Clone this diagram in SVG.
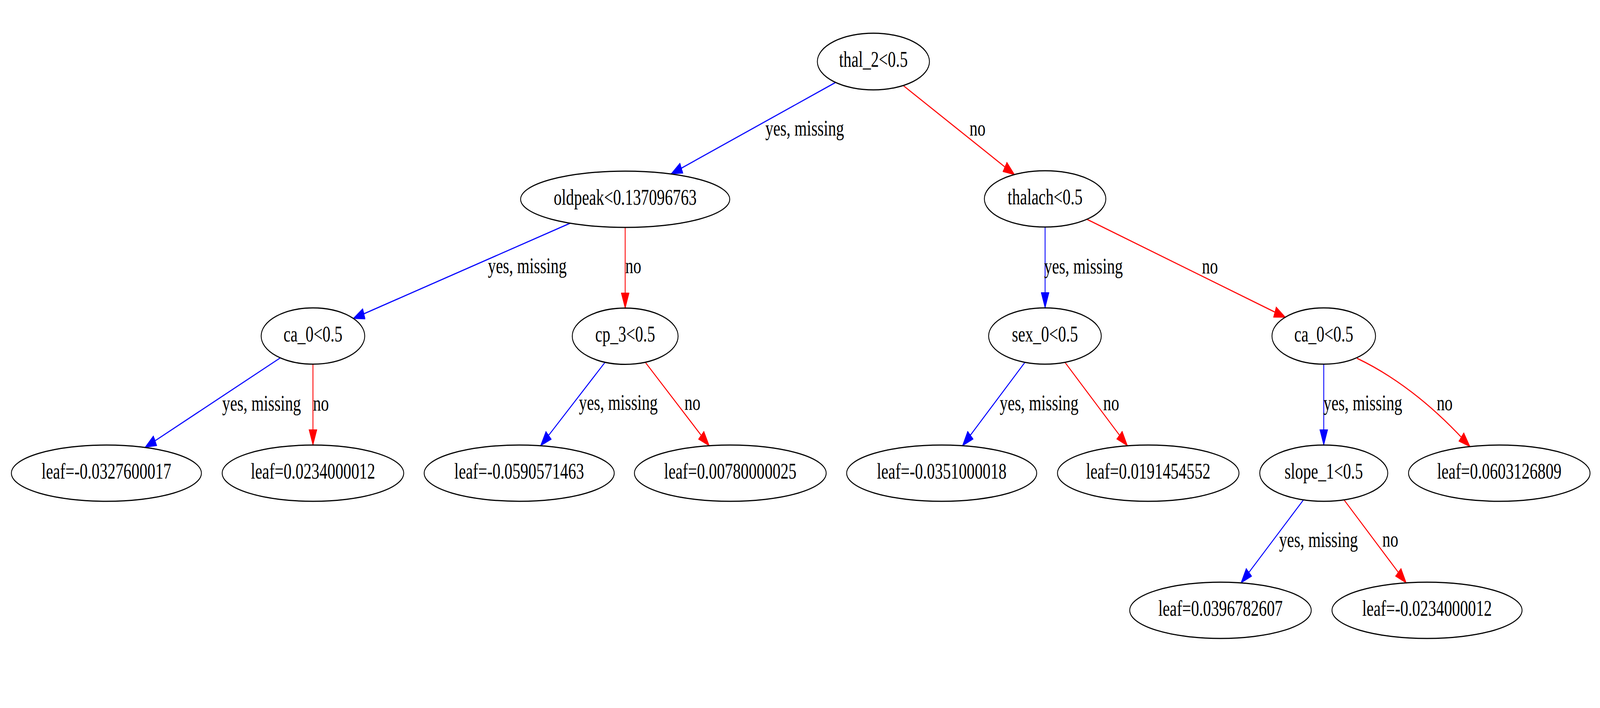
<svg xmlns="http://www.w3.org/2000/svg" width="5624" height="1812" viewBox="0 0 5624 1812" preserveAspectRatio="none" style="width:100%;height:100%">
<style>
.node ellipse{fill:none;stroke:#000;stroke-width:3}
.node text{font-family:"Liberation Serif","Times New Roman",serif;font-size:56px;text-anchor:middle;fill:#000}
.elabel{font-family:"Liberation Serif","Times New Roman",serif;font-size:56px;fill:#000}
.yes{stroke:#0000ff;stroke-width:3;fill:none;marker-end:url(#ab)}
.no{stroke:#ff0000;stroke-width:3;fill:none;marker-end:url(#ar)}
</style>
<defs>
<marker id="ab" markerUnits="userSpaceOnUse" markerWidth="42" markerHeight="30" viewBox="0 -15 42 30" refX="40" refY="0" orient="auto"><path d="M0,-14 L40,0 L0,14 Z" fill="#0000ff" stroke="#0000ff" stroke-width="2"/></marker>
<marker id="ar" markerUnits="userSpaceOnUse" markerWidth="42" markerHeight="30" viewBox="0 -15 42 30" refX="40" refY="0" orient="auto"><path d="M0,-14 L40,0 L0,14 Z" fill="#ff0000" stroke="#ff0000" stroke-width="2"/></marker>
</defs>
<rect x="0" y="0" width="5624" height="1812" fill="#fff"/>
<g id="connectors">
<path class="yes" d="M2937,211 L2359,445"/>
<path class="no" d="M3175,219 L3566,447"/>
<path class="yes" d="M2005,571 L1242,815"/>
<path class="no" d="M2197.5,582 L2197.5,789"/>
<path class="yes" d="M3673.5,581 L3673.5,788"/>
<path class="no" d="M3820,561 L4518,812"/>
<path class="yes" d="M985,916 L510,1145"/>
<path class="no" d="M1100,932 L1100,1139"/>
<path class="yes" d="M2127,927 L1900,1141"/>
<path class="no" d="M2268,927 L2493,1141"/>
<path class="yes" d="M3603,927 L3383,1141"/>
<path class="no" d="M3743,927 L3963,1141"/>
<path class="yes" d="M4653,932 L4653,1139"/>
<path class="no" d="M4770,917 Q4977,989 5167,1143"/>
<path class="yes" d="M4582,1279 L4362,1492"/>
<path class="no" d="M4724,1279 L4943,1492"/>
<text class="elabel" x="2690" y="347">yes, missing</text>
<text class="elabel" x="3408" y="347">no</text>
<text class="elabel" x="1715" y="699">yes, missing</text>
<text class="elabel" x="2198" y="699">no</text>
<text class="elabel" x="3670" y="700">yes, missing</text>
<text class="elabel" x="4225" y="700">no</text>
<text class="elabel" x="781" y="1051">yes, missing</text>
<text class="elabel" x="1100" y="1051">no</text>
<text class="elabel" x="2035" y="1049">yes, missing</text>
<text class="elabel" x="2406" y="1049">no</text>
<text class="elabel" x="3514" y="1050">yes, missing</text>
<text class="elabel" x="3878" y="1050">no</text>
<text class="elabel" x="4652" y="1050">yes, missing</text>
<text class="elabel" x="5050" y="1050">no</text>
<text class="elabel" x="4496" y="1400">yes, missing</text>
<text class="elabel" x="4859" y="1399">no</text>
</g>
<g id="n0" class="node"><ellipse cx="3070" cy="157.5" rx="197" ry="72.5"/><text x="3070" y="171.5">thal_2&lt;0.5</text></g>
<g id="n1" class="node"><ellipse cx="2197.5" cy="510" rx="367.5" ry="72"/><text x="2197.5" y="524">oldpeak&lt;0.137096763</text></g>
<g id="n2" class="node"><ellipse cx="3673.5" cy="509" rx="213.5" ry="72"/><text x="3673.5" y="523">thalach&lt;0.5</text></g>
<g id="n3" class="node"><ellipse cx="1100" cy="860" rx="182" ry="72"/><text x="1100" y="874">ca_0&lt;0.5</text></g>
<g id="n4" class="node"><ellipse cx="2197.5" cy="860.5" rx="186" ry="72"/><text x="2197.5" y="874.5">cp_3&lt;0.5</text></g>
<g id="n5" class="node"><ellipse cx="3673" cy="860" rx="198" ry="72"/><text x="3673" y="874">sex_0&lt;0.5</text></g>
<g id="n6" class="node"><ellipse cx="4653" cy="860" rx="182" ry="72"/><text x="4653" y="874">ca_0&lt;0.5</text></g>
<g id="n7" class="node"><ellipse cx="374" cy="1211" rx="334" ry="72"/><text x="374" y="1225">leaf=-0.0327600017</text></g>
<g id="n8" class="node"><ellipse cx="1100" cy="1211" rx="319" ry="72"/><text x="1100" y="1225">leaf=0.0234000012</text></g>
<g id="n9" class="node"><ellipse cx="1825" cy="1211" rx="334" ry="72"/><text x="1825" y="1225">leaf=-0.0590571463</text></g>
<g id="n10" class="node"><ellipse cx="2567" cy="1211" rx="337" ry="72"/><text x="2567" y="1225">leaf=0.00780000025</text></g>
<g id="n11" class="node"><ellipse cx="3310" cy="1211" rx="334" ry="72"/><text x="3310" y="1225">leaf=-0.0351000018</text></g>
<g id="n12" class="node"><ellipse cx="4036" cy="1211" rx="319" ry="72"/><text x="4036" y="1225">leaf=0.0191454552</text></g>
<g id="n13" class="node"><ellipse cx="4653" cy="1211" rx="225" ry="72"/><text x="4653" y="1225">slope_1&lt;0.5</text></g>
<g id="n14" class="node"><ellipse cx="5270" cy="1211" rx="319" ry="72"/><text x="5270" y="1225">leaf=0.0603126809</text></g>
<g id="n15" class="node"><ellipse cx="4290" cy="1562" rx="319" ry="72"/><text x="4290" y="1576">leaf=0.0396782607</text></g>
<g id="n16" class="node"><ellipse cx="5016" cy="1562" rx="334" ry="72"/><text x="5016" y="1576">leaf=-0.0234000012</text></g>
</svg>
